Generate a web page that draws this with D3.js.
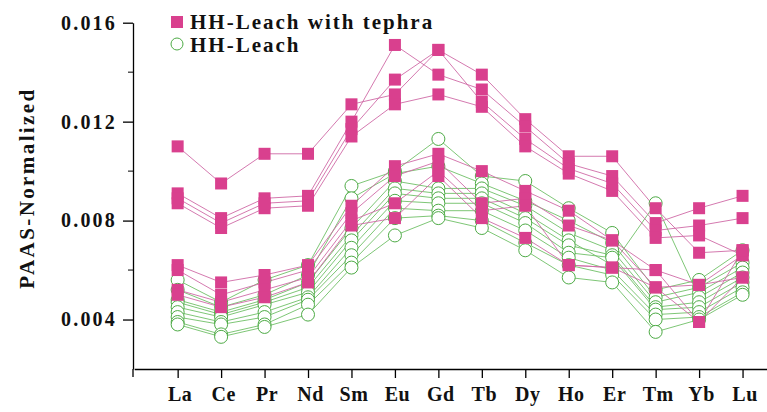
<!DOCTYPE html>
<html>
<head>
<meta charset="utf-8">
<script src="https://cdn.jsdelivr.net/npm/d3@7"></script>
<style>
  body { margin:0; background:#fff; }
  svg text { font-family: "Times New Roman", "Liberation Serif", serif; font-weight:bold; fill:#111; }
</style>
</head>
<body>
<svg id="chart" width="767" height="412"></svg>
<script>
// --- data (PAAS-normalized REE) ---
const elements = ['La','Ce','Pr','Nd','Sm','Eu','Gd','Tb','Dy','Ho','Er','Tm','Yb','Lu'];

// HH-Leach with tephra
const tephra1 = [0.0110,0.0095,0.0107,0.0107,0.0127,0.0131,0.0149,0.0139,0.0121,0.0106,0.0106,0.0085,0.0067,0.0068];
const tephra2 = [0.0091,0.0081,0.0089,0.0090,0.0120,0.0151,0.0139,0.0133,0.0118,0.0103,0.0098,0.0079,0.0085,0.0090];
const tephra3 = [0.0089,0.0079,0.0087,0.0088,0.0117,0.0137,0.0149,0.0128,0.0113,0.0101,0.0095,0.0076,0.0078,0.0081];
const tephra4 = [0.0087,0.0077,0.0085,0.0086,0.0114,0.0127,0.0131,0.0126,0.0110,0.0099,0.0092,0.0073,0.0074,0.0066];
const tephra5 = [0.0062,0.0055,0.0058,0.0062,0.0086,0.0102,0.0107,0.0100,0.0092,0.0084,0.0072,0.0060,0.0054,0.0066];
const tephra6 = [0.0060,0.0050,0.0055,0.0060,0.0083,0.0098,0.0104,0.0087,0.0089,0.0078,0.0072,0.0053,0.0054,0.0057];
const tephra7 = [0.0052,0.0047,0.0052,0.0057,0.0080,0.0087,0.0100,0.0084,0.0086,0.0062,0.0061,0.0053,0.0039,0.0057];
const tephra8 = [0.0050,0.0045,0.0049,0.0055,0.0078,0.0081,0.0098,0.0081,0.0073,0.0062,0.0061,0.0060,0.0039,0.0068];

// HH-Leach
const leach1 = [0.0056,0.0047,0.0056,0.0062,0.0094,0.0100,0.0113,0.0098,0.0096,0.0085,0.0075,0.0052,0.0056,0.0068];
const leach2 = [0.0052,0.0045,0.0050,0.0058,0.0089,0.0099,0.0102,0.0095,0.0088,0.0080,0.0071,0.0049,0.0053,0.0063];
const leach3 = [0.0048,0.0043,0.0048,0.0055,0.0077,0.0096,0.0093,0.0093,0.0086,0.0075,0.0068,0.0047,0.0051,0.0061];
const leach4 = [0.0047,0.0042,0.0047,0.0053,0.0074,0.0093,0.0091,0.0091,0.0083,0.0072,0.0062,0.0087,0.0049,0.0059];
const leach5 = [0.0045,0.0041,0.0046,0.0051,0.0072,0.0091,0.0089,0.0089,0.0081,0.0070,0.0066,0.0045,0.0047,0.0057];
const leach6 = [0.0043,0.0039,0.0043,0.0049,0.0069,0.0088,0.0087,0.0087,0.0079,0.0067,0.0065,0.0044,0.0045,0.0055];
const leach7 = [0.0041,0.0038,0.0041,0.0048,0.0066,0.0085,0.0084,0.0084,0.0076,0.0065,0.0060,0.0042,0.0043,0.0053];
const leach8 = [0.0039,0.0034,0.0038,0.0046,0.0063,0.0081,0.0082,0.0080,0.0071,0.0062,0.0058,0.0040,0.0041,0.0051];
const leach9 = [0.0038,0.0033,0.0037,0.0042,0.0061,0.0074,0.0081,0.0077,0.0068,0.0057,0.0055,0.0035,0.0040,0.0050];

const tephraSeries = [tephra1,tephra2,tephra3,tephra4,tephra5,tephra6,tephra7,tephra8];
const leachSeries  = [leach1,leach2,leach3,leach4,leach5,leach6,leach7,leach8,leach9];

const yMajor = [0.004,0.008,0.012,0.016];
const yMinor = [0.006,0.010,0.014];

// --- layout ---
const PINK = '#d9408e', PINK_LINE = '#cf6aa6';
const GREEN = '#4eab46', GREEN_LINE = '#6fbf66';

const svg = d3.select('#chart');
const x = d3.scaleLinear().domain([-1, 14]).range([134.2, 786]);
const y = d3.scaleLinear().domain([0.002, 0.016]).range([369, 22.7]);

// axes
const xAxis = d3.axisBottom(x).tickValues(d3.range(elements.length))
  .tickFormat(i => elements[i]).tickSize(9).tickSizeOuter(0).tickPadding(9);
const gx = svg.append('g').attr('transform','translate(0,369)').call(xAxis);
gx.selectAll('text').style('font-size','20px').style('letter-spacing','0.5px').attr('dx','2px');

const yAxis = d3.axisLeft(y).tickValues(yMajor).tickFormat(d3.format('.3f'))
  .tickSize(10).tickSizeOuter(0).tickPadding(6);
const gy = svg.append('g').attr('transform','translate(133,0)').call(yAxis);
gy.selectAll('text').style('font-size','20px').style('letter-spacing','2.2px');
gy.selectAll('.tick.minor').data(yMinor).enter().append('line')
  .attr('x1',-5).attr('x2',0).attr('y1',d=>y(d)).attr('y2',d=>y(d))
  .attr('stroke','#000');
svg.selectAll('.domain, .tick line').attr('stroke','#000').attr('stroke-width',1.3);
// small overhang at the origin
svg.append('line').attr('x1',133).attr('x2',133).attr('y1',369).attr('y2',377)
  .attr('stroke','#000').attr('stroke-width',1.3);

svg.append('text')
  .attr('transform','translate(34,188) rotate(-90)')
  .attr('text-anchor','middle')
  .style('font-size','21px').style('letter-spacing','2.4px')
  .text('PAAS-Normalized');

// --- lines & markers ---
const line = d3.line().x((d,i)=>x(i)).y(d=>y(d));
const plot = svg.append('g');

plot.selectAll('path.leach').data(leachSeries).join('path')
  .attr('class','leach').attr('d',line)
  .attr('fill','none').attr('stroke',GREEN_LINE).attr('stroke-width',0.9);
plot.selectAll('path.tephra').data(tephraSeries).join('path')
  .attr('class','tephra').attr('d',line)
  .attr('fill','none').attr('stroke',PINK_LINE).attr('stroke-width',0.9);

leachSeries.forEach(s => {
  plot.append('g').selectAll('circle').data(s).join('circle')
    .attr('cx',(d,i)=>x(i)).attr('cy',d=>y(d)).attr('r',6.5)
    .attr('fill','#fff').attr('stroke',GREEN).attr('stroke-width',1);
});
const sq = 12;
tephraSeries.forEach(s => {
  plot.append('g').selectAll('rect').data(s).join('rect')
    .attr('x',(d,i)=>x(i)-sq/2).attr('y',d=>y(d)-sq/2)
    .attr('width',sq).attr('height',sq).attr('fill',PINK);
});

// --- legend ---
const lg = svg.append('g');
lg.append('rect').attr('x',171).attr('y',16).attr('width',12).attr('height',12).attr('fill',PINK);
lg.append('text').attr('x',190).attr('y',29).style('font-size','21px').style('letter-spacing','2px')
  .text('HH-Leach with tephra');
lg.append('circle').attr('cx',177).attr('cy',44).attr('r',6).attr('fill','#fff').attr('stroke',GREEN).attr('stroke-width',1);
lg.append('text').attr('x',190).attr('y',52).style('font-size','21px').style('letter-spacing','2px')
  .text('HH-Leach');
</script>
</body>
</html>
